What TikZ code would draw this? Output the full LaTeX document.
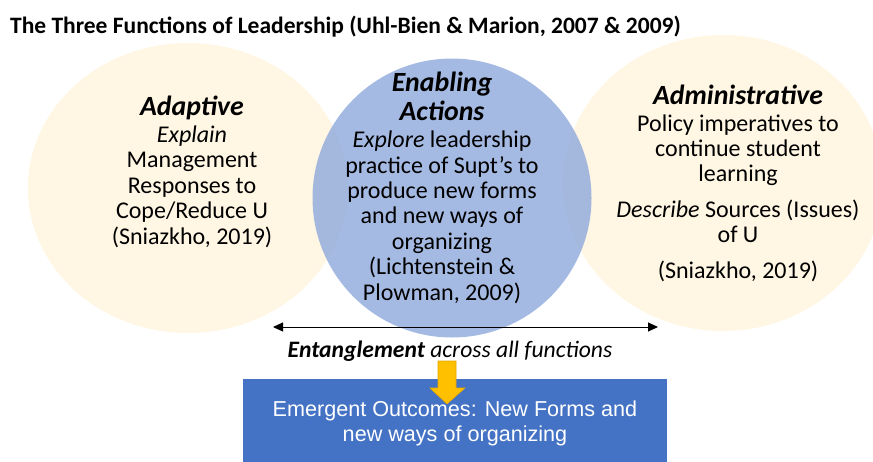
\documentclass[tikz,border=0pt]{standalone}
\usepackage{fontspec}
\setmainfont{Carlito}
\newfontfamily\boxfont{Liberation Sans}
\usetikzlibrary{arrows.meta}
\definecolor{funcyellow}{HTML}{FFF6E3}
\definecolor{enableblue}{HTML}{95AEDE}
\definecolor{outcomeblue}{HTML}{4472C4}
\definecolor{arrowgold}{HTML}{FFC000}
\definecolor{arrowedge}{HTML}{E3A600}
\begin{document}
\begin{tikzpicture}[x=1pt,y=1pt]
\tikzstyle{funchead} = [
  inner sep=0pt,
  anchor=base,
  align=center,
  font=\fontsize{27.8}{29}\selectfont\bfseries\itshape
]
\tikzstyle{funcbody} = [
  inner sep=0pt,
  anchor=base,
  align=center,
  font=\fontsize{24}{25.4}\selectfont
]

\useasboundingbox (0,0) rectangle (873,-461);
\clip (0,0) rectangle (873,-461);

\fill [funcyellow] (188,-188) ellipse [x radius=160, y radius=145];
\fill [funcyellow] (723,-183) ellipse [x radius=160, y radius=148];
\fill [enableblue, fill opacity=0.85] (452,-198) circle [radius=139.5];

% base anchors sit on the last line of each text
\node [anchor=base west, inner sep=0pt, font=\fontsize{23.5}{26}\selectfont\bfseries] (title) at (10,-33)
  {The Three Functions of Leadership (Uhl-Bien \& Marion, 2007 \& 2009)};

\node [funchead] (adaptive) at (192,-115) {Adaptive};
\node [funcbody] (adaptivetxt) at (192,-244) {\textit{Explain}\\ Management\\ Responses to\\ Cope/Reduce U\\ (Sniazkho, 2019)};

\node [funchead] (enabling) at (442,-120) {Enabling\\ Actions};
\node [funcbody] (enablingtxt) at (442,-300) {\textit{Explore} leadership\\ practice of Supt’s to\\ produce new forms\\ and new ways of\\ organizing\\ (Lichtenstein \&\\ Plowman, 2009)};

\node [funchead] (admin) at (738,-104) {Administrative};
\node [funcbody] (admintxt) at (738,-278) {Policy imperatives to\\ continue student\\ learning\\[10pt] \textit{Describe} Sources (Issues)\\ of U\\[10pt] (Sniazkho, 2019)};

\coordinate (entl) at (273,-327);
\coordinate (entr) at (658,-327);
\draw [{Triangle[length=10pt,width=9pt]}-{Triangle[length=10pt,width=9pt]}, line width=1pt] (entl) -- (entr);

\node [funcbody, font=\fontsize{23.6}{25.4}\selectfont\itshape] (entangle) at (450,-357) {\textbf{Entanglement} across all functions};

\node [fill=outcomeblue, anchor=north, minimum width=424, minimum height=88, inner sep=0pt,
  align=center, text=white, font=\boxfont\fontsize{21.6}{25}\selectfont] (outcome) at (455,-379)
  {Emergent Outcomes: New Forms and\\ new ways of organizing};

\fill [arrowgold, draw=arrowedge, line width=0.6pt] (438,-361) -- (456,-361) -- (456,-388) -- (465,-388)
  -- (447,-404) -- (430,-388) -- (438,-388) -- cycle;

\end{tikzpicture}
\end{document}
